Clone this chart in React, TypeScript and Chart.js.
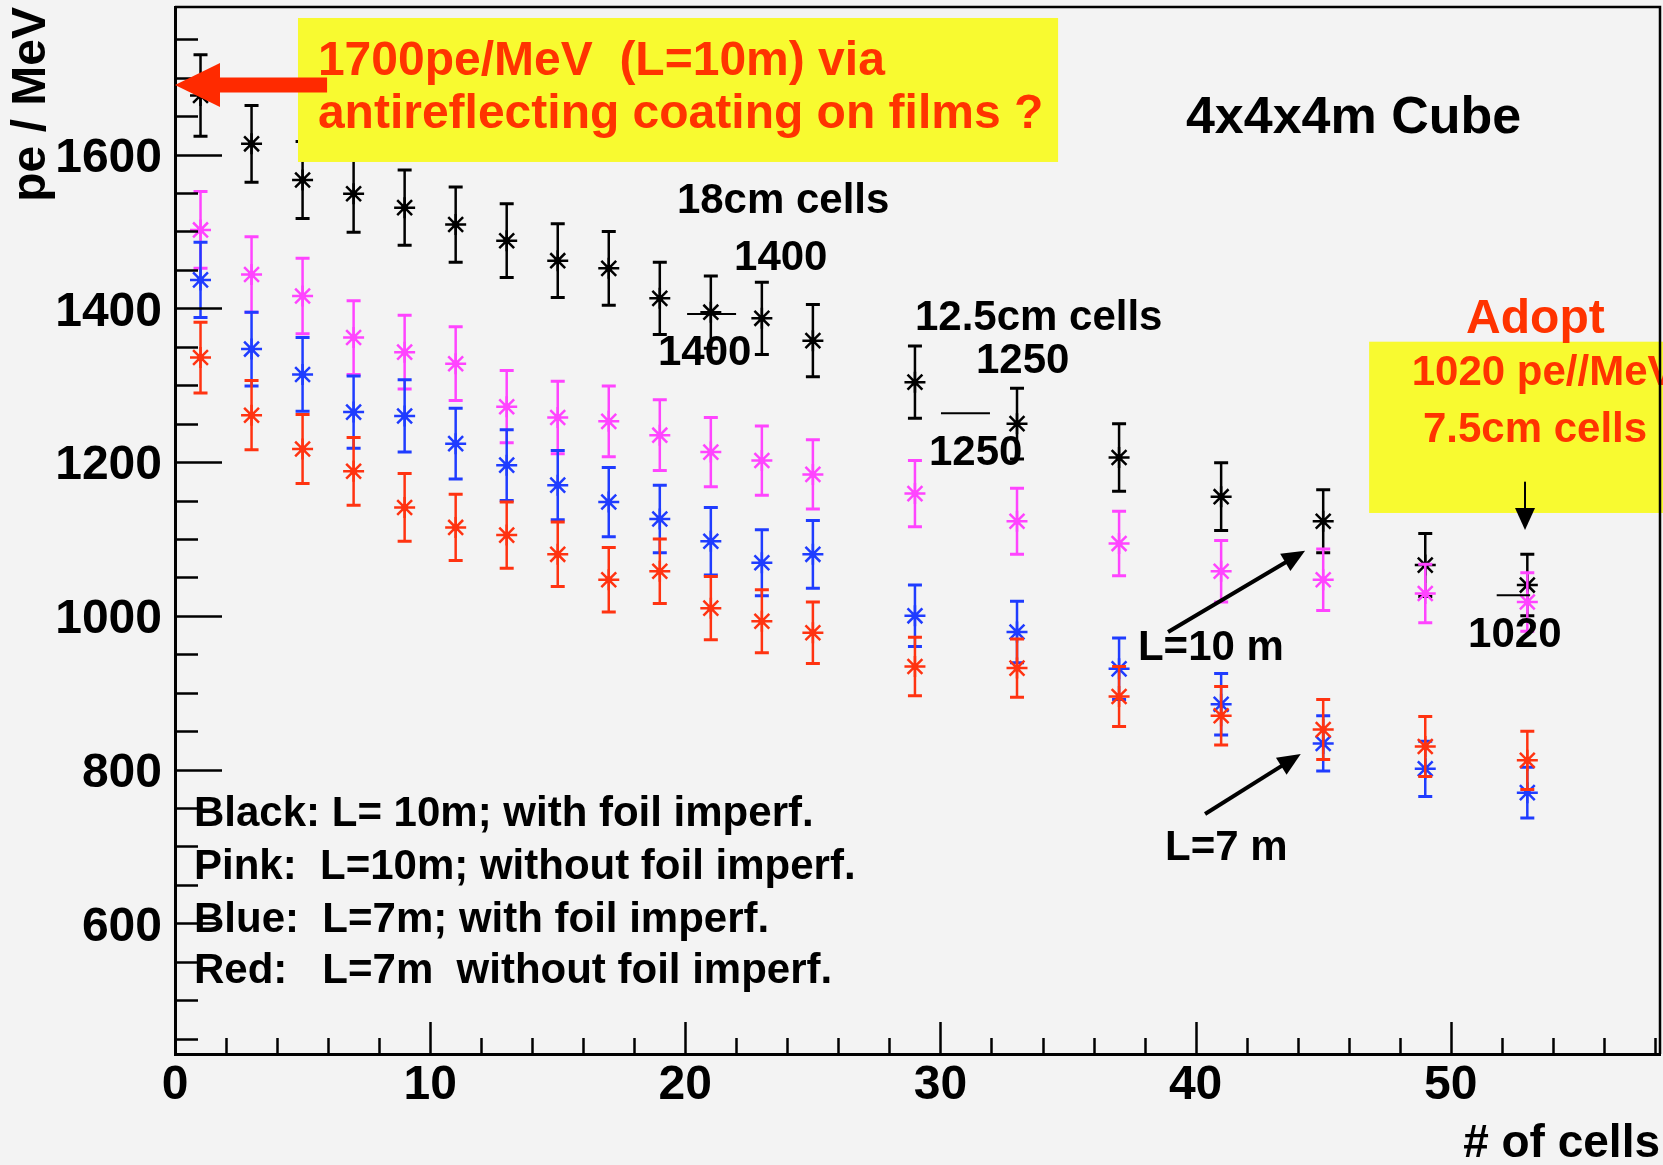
import React, { useEffect, useRef } from "react";
import { Chart, registerables } from "chart.js";

Chart.register(...registerables);

// ---------- data ----------
const cells = [1, 3, 5, 7, 9, 11, 13, 15, 17, 19, 21, 23, 25, 29, 33, 37, 41, 45, 49, 53];

const blackValues = [1677, 1614, 1567, 1549, 1531, 1509, 1488, 1462, 1452, 1413, 1395, 1387, 1358, 1304, 1250, 1206, 1155, 1123, 1066, 1040];
const blackErrors = [53, 50, 50, 50, 49, 49, 48, 48, 48, 47, 47, 47, 47, 47, 46, 44, 44, 41, 41, 40];

const pinkValues = [1502, 1444, 1416, 1362, 1343, 1328, 1272, 1258, 1253, 1235, 1213, 1202, 1184, 1159, 1123, 1094, 1058, 1047, 1029, 1018];
const pinkErrors = [50, 49, 49, 48, 48, 48, 47, 47, 46, 46, 45, 45, 45, 43, 43, 42, 40, 40, 38, 38];

const blueValues = [1437, 1347, 1314, 1265, 1260, 1224, 1196, 1170, 1148, 1126, 1097, 1069, 1080, 1000, 979, 931, 885, 834, 801, 770];
const blueErrors = [49, 48, 48, 47, 47, 46, 46, 45, 45, 44, 44, 43, 44, 40, 40, 40, 40, 36, 36, 33];

const redValues = [1336, 1261, 1217, 1188, 1141, 1115, 1105, 1080, 1047, 1058, 1010, 993, 978, 934, 932, 895, 870, 852, 830, 812];
const redErrors = [46, 45, 45, 44, 44, 43, 43, 42, 42, 42, 41, 41, 40, 38, 38, 39, 38, 39, 39, 38];

const xRange = [0, 58.2];
const yRange = [430, 1792];
const xTicks = [0, 10, 20, 30, 40, 50];
const yTicks = [600, 800, 1000, 1200, 1400, 1600];

const legendLines = [
  "Black: L= 10m; with foil imperf.",
  "Pink:  L=10m; without foil imperf.",
  "Blue:  L=7m; with foil imperf.",
  "Red:   L=7m  without foil imperf.",
];

// ---------- styles ----------
const FAMILY = '"Liberation Sans", Arial, Helvetica, sans-serif';
const BG = "#f3f3f3";
const YELLOW = "#f8fa30";
const RED_TEXT = "#ff3300";
const COLORS = { black: "#000000", pink: "#ff44ff", blue: "#1f3cff", red: "#ff3311" };

// annotations in data coordinates (x = # of cells, y = pe/MeV)
const boxes = [
  { x1: 4.82, x2: 34.61, y1: 1777.7, y2: 1590.4 },
  { x1: 46.8, x2: 58.5, y1: 1356.6, y2: 1133.8 },
];

const notes = [
  { text: "1700pe/MeV  (L=10m) via", x: 5.6, y: 1703.5, size: 48, color: RED_TEXT },
  { text: "antireflecting coating on films ?", x: 5.6, y: 1634.6, size: 48, color: RED_TEXT },
  { text: "4x4x4m Cube", x: 39.62, y: 1628.1, size: 52, color: "#000" },
  { text: "18cm cells", x: 19.67, y: 1524, size: 42, color: "#000" },
  { text: "1400", x: 21.91, y: 1449.9, size: 42, color: "#000" },
  { text: "1400", x: 18.93, y: 1326.3, size: 42, color: "#000" },
  { text: "12.5cm cells", x: 29.0, y: 1371.8, size: 42, color: "#000" },
  { text: "1250", x: 31.39, y: 1315.9, size: 42, color: "#000" },
  { text: "1250", x: 29.55, y: 1196.2, size: 42, color: "#000" },
  { text: "Adopt", x: 50.6, y: 1367.9, size: 48, color: RED_TEXT },
  { text: "1020 pe//MeV", x: 48.47, y: 1300.3, size: 42, color: RED_TEXT },
  { text: "7.5cm cells", x: 48.91, y: 1226.5, size: 42, color: RED_TEXT },
  { text: "1020", x: 50.68, y: 959.5, size: 42, color: "#000" },
  { text: "L=10 m", x: 37.74, y: 942.5, size: 42, color: "#000" },
  { text: "L=7 m", x: 38.8, y: 682.4, size: 42, color: "#000" },
];

const legendPos = { x: 0.745, y: [726.6, 657.7, 588.7, 522.4] };

const refLines = [
  { x1: 20.07, x2: 21.99, y: 1392.6 },
  { x1: 30.02, x2: 31.94, y: 1263.5 },
  { x1: 51.8, x2: 53.11, y: 1026.7 },
];

const arrows = [
  { x1: 5.96, y1: 1690.5, x2: 0, y2: 1690.5, width: 15, head: 45, half: 22, color: "#ff2a00" },
  { x1: 38.92, y1: 979, x2: 44.29, y2: 1084.7, width: 4, head: 23, half: 10, color: "#000" },
  { x1: 40.37, y1: 742.2, x2: 44.12, y2: 820.3, width: 4, head: 23, half: 10, color: "#000" },
  { x1: 52.91, y1: 1174.5, x2: 52.91, y2: 1111.7, width: 2, head: 22, half: 10, color: "#000" },
];

// ---------- plugins ----------
const backgroundPlugin = {
  id: "bg",
  beforeDraw(chart: any) {
    const { ctx, width, height } = chart;
    ctx.save();
    ctx.fillStyle = BG;
    ctx.fillRect(0, 0, width, height);
    ctx.restore();
  },
};

const errorBarPlugin = {
  id: "errorBars",
  beforeDatasetDraw(chart: any, args: any) {
    const ds = chart.data.datasets[args.index];
    const errs: number[] = ds.errors || [];
    const y = chart.scales.y;
    const ctx = chart.ctx;
    ctx.save();
    ctx.strokeStyle = ds.borderColor;
    args.meta.data.forEach((pt: any, i: number) => {
      const v = ds.data[i].y;
      const e = errs[i] || 0;
      const top = y.getPixelForValue(v + e);
      const bot = y.getPixelForValue(v - e);
      ctx.lineWidth = 2.5;
      ctx.beginPath();
      ctx.moveTo(pt.x, top);
      ctx.lineTo(pt.x, bot);
      ctx.stroke();
      ctx.lineWidth = 3;
      ctx.beginPath();
      ctx.moveTo(pt.x - 7, top);
      ctx.lineTo(pt.x + 7, top);
      ctx.moveTo(pt.x - 7, bot);
      ctx.lineTo(pt.x + 7, bot);
      ctx.stroke();
    });
    ctx.restore();
  },
  afterDatasetDraw(chart: any, args: any) {
    const ds = chart.data.datasets[args.index];
    const ctx = chart.ctx;
    ctx.save();
    ctx.fillStyle = ds.borderColor;
    args.meta.data.forEach((pt: any) => {
      ctx.beginPath();
      ctx.arc(pt.x, pt.y, 3.4, 0, Math.PI * 2);
      ctx.fill();
    });
    ctx.restore();
  },
};

const inwardTicksPlugin = {
  id: "inwardTicks",
  afterDatasetsDraw(chart: any) {
    const { ctx, chartArea: a } = chart;
    const xs = chart.scales.x;
    const ys = chart.scales.y;
    ctx.save();
    ctx.strokeStyle = "#000";
    ctx.lineWidth = 2.5;
    const yMajors = ys.ticks.map((t: any) => t.value);
    const yMinor = (yMajors[1] - yMajors[0]) / 4;
    let v = yMajors[0] - yMinor * Math.floor((yMajors[0] - ys.min) / yMinor);
    for (; v <= ys.max + 1e-6; v += yMinor) {
      const k = (v - yMajors[0]) / (yMinor * 4);
      const major = Math.abs(k - Math.round(k)) < 1e-6;
      const py = Math.round(ys.getPixelForValue(v)) + 0.5;
      ctx.beginPath();
      ctx.moveTo(a.left, py);
      ctx.lineTo(a.left + (major ? 47 : 23), py);
      ctx.stroke();
    }
    const xMajors = xs.ticks.map((t: any) => t.value);
    const xMinor = (xMajors[1] - xMajors[0]) / 5;
    let u = xMajors[0] - xMinor * Math.floor((xMajors[0] - xs.min) / xMinor);
    for (; u <= xs.max + 1e-6; u += xMinor) {
      const k = (u - xMajors[0]) / (xMinor * 5);
      const major = Math.abs(k - Math.round(k)) < 1e-6;
      const px = Math.round(xs.getPixelForValue(u)) + 0.5;
      ctx.beginPath();
      ctx.moveTo(px, a.bottom);
      ctx.lineTo(px, a.bottom - (major ? 32 : 16));
      ctx.stroke();
    }
    ctx.restore();
  },
};

function drawArrow(ctx: CanvasRenderingContext2D, x1: number, y1: number, x2: number, y2: number, w: number, head: number, half: number, color: string) {
  const ang = Math.atan2(y2 - y1, x2 - x1);
  const bx = x2 - head * Math.cos(ang);
  const by = y2 - head * Math.sin(ang);
  ctx.strokeStyle = color;
  ctx.fillStyle = color;
  ctx.lineWidth = w;
  ctx.lineCap = "butt";
  ctx.beginPath();
  ctx.moveTo(x1, y1);
  ctx.lineTo(bx + Math.cos(ang), by + Math.sin(ang));
  ctx.stroke();
  ctx.beginPath();
  ctx.moveTo(x2, y2);
  ctx.lineTo(bx + half * Math.sin(ang), by - half * Math.cos(ang));
  ctx.lineTo(bx - half * Math.sin(ang), by + half * Math.cos(ang));
  ctx.closePath();
  ctx.fill();
}

const annotationPlugin = {
  id: "annotations",
  afterDraw(chart: any) {
    const { ctx, chartArea: a } = chart;
    const xs = chart.scales.x;
    const ys = chart.scales.y;
    const X = (v: number) => xs.getPixelForValue(v);
    const Y = (v: number) => ys.getPixelForValue(v);
    ctx.save();
    ctx.fillStyle = YELLOW;
    boxes.forEach((b) => {
      ctx.fillRect(X(b.x1), Y(b.y1), X(b.x2) - X(b.x1), Y(b.y2) - Y(b.y1));
    });
    ctx.strokeStyle = "#000";
    ctx.lineWidth = 2;
    refLines.forEach((l) => {
      ctx.beginPath();
      ctx.moveTo(X(l.x1), Y(l.y));
      ctx.lineTo(X(l.x2), Y(l.y));
      ctx.stroke();
    });
    arrows.forEach((r) => drawArrow(ctx, X(r.x1), Y(r.y1), X(r.x2), Y(r.y2), r.width, r.head, r.half, r.color));
    ctx.textBaseline = "alphabetic";
    ctx.textAlign = "left";
    notes.forEach((n) => {
      ctx.font = `bold ${n.size}px ${FAMILY}`;
      ctx.fillStyle = n.color;
      ctx.fillText(n.text, X(n.x), Y(n.y));
    });
    ctx.font = `bold 42px ${FAMILY}`;
    ctx.fillStyle = "#000";
    legendLines.forEach((t, i) => ctx.fillText(t, X(legendPos.x), Y(legendPos.y[i])));
    ctx.strokeStyle = "#000";
    ctx.lineWidth = 2.5;
    ctx.beginPath();
    ctx.moveTo(a.left, a.top);
    ctx.lineTo(a.right, a.top);
    ctx.lineTo(a.right, a.bottom);
    ctx.stroke();
    ctx.restore();
  },
};

function series(label: string, values: number[], errors: number[], color: string, order: number) {
  return {
    label,
    data: cells.map((c, i) => ({ x: c, y: values[i] })),
    errors,
    showLine: false,
    pointStyle: "star",
    pointRadius: 10.5,
    pointBorderWidth: 2.5,
    borderColor: color,
    backgroundColor: color,
    order,
  };
}

export default function App() {
  const ref = useRef<HTMLCanvasElement>(null);
  useEffect(() => {
    if (!ref.current) return;
    const chart = new Chart(ref.current, {
      type: "scatter",
      data: {
        datasets: [
          series("Black: L=10m; with foil imperf.", blackValues, blackErrors, COLORS.black, 4),
          series("Pink: L=10m; without foil imperf.", pinkValues, pinkErrors, COLORS.pink, 3),
          series("Blue: L=7m; with foil imperf.", blueValues, blueErrors, COLORS.blue, 2),
          series("Red: L=7m without foil imperf.", redValues, redErrors, COLORS.red, 1),
        ] as any,
      },
      options: {
        responsive: false,
        animation: false,
        events: [],
        layout: { padding: { left: 0, top: 7, right: 3, bottom: 0 }, autoPadding: false },
        plugins: { legend: { display: false }, tooltip: { enabled: false }, title: { display: false } },
        scales: {
          x: {
            type: "linear",
            position: "bottom",
            min: xRange[0],
            max: xRange[1],
            afterBuildTicks: (s: any) => {
              s.ticks = xTicks.map((v) => ({ value: v }));
            },
            ticks: {
              autoSkip: false,
              maxRotation: 0,
              padding: 3,
              color: "#000",
              font: { family: FAMILY, size: 48, weight: "bold" },
              callback: (v: any) => String(v),
            },
            grid: { display: false, drawTicks: false },
            border: { display: true, color: "#000", width: 3 },
            title: {
              display: true,
              text: "# of cells",
              align: "end",
              color: "#000",
              font: { family: FAMILY, size: 46, weight: "bold", lineHeight: 0.9 },
              padding: 0,
            },
            afterFit: (s: any) => {
              s.height = 111;
              s.paddingLeft = 0;
              s.paddingRight = 0;
            },
          },
          y: {
            type: "linear",
            position: "left",
            min: yRange[0],
            max: yRange[1],
            afterBuildTicks: (s: any) => {
              s.ticks = yTicks.map((v) => ({ value: v }));
            },
            ticks: {
              autoSkip: false,
              padding: 13,
              labelOffset: 4,
              color: "#000",
              font: { family: FAMILY, size: 48, weight: "bold" },
              callback: (v: any) => String(v),
            },
            grid: { display: false, drawTicks: false },
            border: { display: true, color: "#000", width: 3 },
            title: {
              display: true,
              text: "pe / MeV",
              align: "end",
              color: "#000",
              font: { family: FAMILY, size: 48, weight: "bold" },
              padding: { top: 3, bottom: 0 },
            },
            afterFit: (s: any) => {
              s.width = 175;
              s.paddingTop = 0;
              s.paddingBottom = 0;
            },
          },
        },
      } as any,
      plugins: [backgroundPlugin, errorBarPlugin, inwardTicksPlugin, annotationPlugin],
    });
    return () => chart.destroy();
  }, []);

  return (
    <div style={{ position: "absolute", left: 0, top: 0, width: 1663, height: 1165, background: BG, overflow: "hidden" }}>
      <canvas ref={ref} width={1663} height={1165} style={{ display: "block", width: 1663, height: 1165 }} />
    </div>
  );
}
